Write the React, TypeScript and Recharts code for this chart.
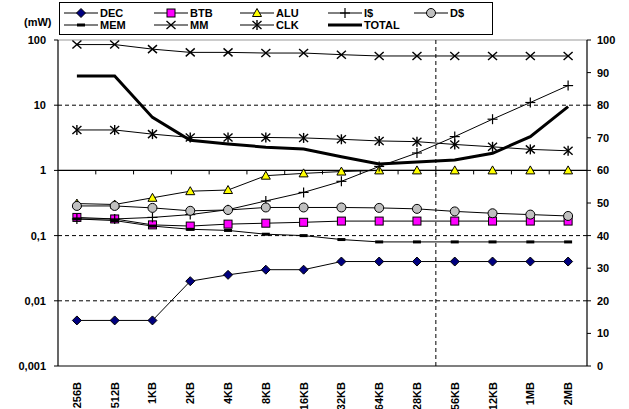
import React from 'react';
import { LineChart, Line, XAxis, YAxis, ReferenceLine, Legend } from 'recharts';

const categories = ['256B', '512B', '1KB', '2KB', '4KB', '8KB', '16KB', '32KB', '64KB', '128KB', '256KB', '512KB', '1MB', '2MB'];

// mW, log axis
const dec = [0.005, 0.005, 0.005, 0.02, 0.025, 0.03, 0.03, 0.04, 0.04, 0.04, 0.04, 0.04, 0.04, 0.04];
const btb = [0.19, 0.18, 0.146, 0.14, 0.15, 0.155, 0.16, 0.167, 0.167, 0.167, 0.167, 0.167, 0.167, 0.167];
const alu = [0.31, 0.3, 0.38, 0.48, 0.5, 0.83, 0.9, 0.96, 1, 1, 1, 1, 1, 1];
const icache = [0.18, 0.18, 0.19, 0.21, 0.25, 0.34, 0.46, 0.68, 1.15, 1.85, 3.3, 6.1, 11, 20];
const dcache = [0.285, 0.285, 0.266, 0.24, 0.247, 0.27, 0.27, 0.27, 0.266, 0.257, 0.235, 0.22, 0.21, 0.2];
const mem = [0.18, 0.17, 0.14, 0.125, 0.12, 0.105, 0.1, 0.087, 0.08, 0.08, 0.08, 0.08, 0.08, 0.08];
const clk = [4.17, 4.17, 3.6, 3.2, 3.2, 3.2, 3.15, 3.0, 2.83, 2.76, 2.5, 2.3, 2.1, 2.0];
const total = [28, 28, 6.5, 2.9, 2.55, 2.27, 2.13, 1.62, 1.25, 1.35, 1.44, 1.83, 3.3, 9.5];
// right axis (0-100)
const mm = [98.6, 98.6, 97.2, 96.2, 96.2, 96, 96, 95.5, 95.1, 95.1, 95.1, 95.1, 95.1, 95.1];

const leftTicks = [0.001, 0.01, 0.1, 1, 10, 100];
const rightTicks = [0, 10, 20, 30, 40, 50, 60, 70, 80, 90, 100];

const data = categories.map((c, i) => ({
  i,
  name: c,
  dec: dec[i],
  btb: btb[i],
  alu: alu[i],
  icache: icache[i],
  dcache: dcache[i],
  mem: mem[i],
  mm: mm[i],
  clk: clk[i],
  total: total[i],
}));

const FONT = '"Liberation Sans", Arial, sans-serif';

const marker = (kind: string, cx: number, cy: number, key?: any) => {
  switch (kind) {
    case 'diamond':
      return <polygon key={key} points={`${cx},${cy - 4.5} ${cx + 4.5},${cy} ${cx},${cy + 4.5} ${cx - 4.5},${cy}`} fill="#000080" stroke="#000" strokeWidth={1} />;
    case 'square':
      return <rect key={key} x={cx - 4} y={cy - 4} width={8} height={8} fill="#ff00ff" stroke="#000" strokeWidth={1} />;
    case 'triangle':
      return <polygon key={key} points={`${cx},${cy - 4.5} ${cx + 4.5},${cy + 3.5} ${cx - 4.5},${cy + 3.5}`} fill="#ffff00" stroke="#000" strokeWidth={1} />;
    case 'plus':
      return (
        <g key={key} stroke="#000" strokeWidth={1.2}>
          <line x1={cx - 5} y1={cy} x2={cx + 5} y2={cy} />
          <line x1={cx} y1={cy - 5} x2={cx} y2={cy + 5} />
        </g>
      );
    case 'circle':
      return <circle key={key} cx={cx} cy={cy} r={4.5} fill="#c0c0c0" stroke="#000" strokeWidth={1} />;
    case 'dash':
      return <line key={key} x1={cx - 4} y1={cy} x2={cx + 4} y2={cy} stroke="#000" strokeWidth={3} />;
    case 'x':
      return (
        <g key={key} stroke="#000" strokeWidth={1.4}>
          <line x1={cx - 4.5} y1={cy - 4} x2={cx + 4.5} y2={cy + 4} />
          <line x1={cx - 4.5} y1={cy + 4} x2={cx + 4.5} y2={cy - 4} />
        </g>
      );
    case 'star':
      return (
        <g key={key} stroke="#000" strokeWidth={1.4}>
          <line x1={cx - 4.5} y1={cy - 4} x2={cx + 4.5} y2={cy + 4} />
          <line x1={cx - 4.5} y1={cy + 4} x2={cx + 4.5} y2={cy - 4} />
          <line x1={cx} y1={cy - 5} x2={cx} y2={cy + 5} />
        </g>
      );
    default:
      return <g key={key} />;
  }
};

const dotOf = (kind: string) => (p: any) => marker(kind, p.cx, p.cy, p.key ?? p.index);

const series = [
  { key: 'dec', name: 'DEC', kind: 'diamond' },
  { key: 'btb', name: 'BTB', kind: 'square' },
  { key: 'alu', name: 'ALU', kind: 'triangle' },
  { key: 'icache', name: 'I$', kind: 'plus' },
  { key: 'dcache', name: 'D$', kind: 'circle' },
  { key: 'mem', name: 'MEM', kind: 'dash' },
  { key: 'mm', name: 'MM', kind: 'x' },
  { key: 'clk', name: 'CLK', kind: 'star' },
  { key: 'total', name: 'TOTAL', kind: 'none' },
];

const legendCols = [4, 94, 180, 268, 354];

const renderLegend = () => (
  <div style={{ position: 'relative', width: 434, height: 33, border: '1px solid #000', background: '#fff', boxSizing: 'border-box', fontFamily: FONT }}>
    {series.map((s, idx) => {
      const row = idx < 5 ? 0 : 1;
      const col = idx < 5 ? idx : idx - 5;
      return (
        <div key={s.key} style={{ position: 'absolute', left: legendCols[col], top: row === 0 ? 4 : 16, height: 12, display: 'flex', alignItems: 'center' }}>
          <svg width={34} height={12} style={{ display: 'block' }}>
            <line x1={0} y1={6} x2={34} y2={6} stroke="#000" strokeWidth={s.kind === 'none' ? 3 : 1} />
            {marker(s.kind, 17, 6)}
          </svg>
          <span style={{ fontSize: 11, fontWeight: 'bold', marginLeft: 2, lineHeight: '12px' }}>{s.name}</span>
        </div>
      );
    })}
  </div>
);

const XTick = (props: any) => {
  const { x, y, payload } = props;
  const label = categories[payload.value];
  return (
    <text x={x} y={y + 8} transform={`rotate(-90, ${x}, ${y + 8})`} textAnchor="end" dy={4} fontSize={11} fontWeight="bold" fill="#000" fontFamily={FONT}>
      {label}
    </text>
  );
};

const AxisAtOne = (p: any) => {
  const { x1, x2, y1 } = p;
  const step = (x2 - x1) / categories.length;
  return (
    <g>
      <line x1={x1} y1={y1} x2={x2} y2={y1} stroke="#000" strokeWidth={1.2} />
      {categories.slice(1).map((_, k) => (
        <line key={k} x1={x1 + (k + 1) * step} y1={y1} x2={x1 + (k + 1) * step} y2={y1 + 4} stroke="#000" strokeWidth={1} />
      ))}
    </g>
  );
};

const App = () => {
  return (
    <div style={{ position: 'absolute', left: 0, top: 0, fontFamily: FONT }}>
      <div style={{ position: 'absolute', left: 24, top: 16, fontSize: 11, fontWeight: 'bold', lineHeight: '13px' }}>(mW)</div>
      <LineChart width={629} height={409} data={data} margin={{ top: 40, right: 0, bottom: 0, left: 0 }}>
        <XAxis
          xAxisId="x"
          type="number"
          dataKey="i"
          domain={[-0.5, 13.5]}
          ticks={categories.map((_, i) => i)}
          interval={0}
          tickLine={false}
          axisLine={{ stroke: '#000', strokeWidth: 1.2 }}
          height={43}
          tick={<XTick />}
          allowDataOverflow
        />
        <YAxis
          yAxisId="left"
          scale="log"
          domain={[0.001, 100]}
          ticks={leftTicks}
          allowDataOverflow
          width={58}
          tickSize={4}
          tickMargin={8}
          axisLine={{ stroke: '#000', strokeWidth: 1.2 }}
          tickLine={{ stroke: '#000' }}
          tickFormatter={(v: number) => String(v).replace('.', ',')}
          tick={{ fontSize: 11, fontWeight: 'bold', fill: '#000' }}
        />
        <YAxis
          yAxisId="right"
          orientation="right"
          domain={[0, 100]}
          ticks={rightTicks}
          width={42}
          tickSize={4}
          tickMargin={6}
          axisLine={{ stroke: '#000', strokeWidth: 1.2 }}
          tickLine={{ stroke: '#000' }}
          tick={{ fontSize: 11, fontWeight: 'bold', fill: '#000', textAnchor: 'start' }}
        />
        <ReferenceLine xAxisId="x" yAxisId="left" y={100} stroke="#999" />
        <ReferenceLine xAxisId="x" yAxisId="left" y={10} stroke="#000" strokeDasharray="4 3" />
        <ReferenceLine xAxisId="x" yAxisId="left" y={0.1} stroke="#000" strokeDasharray="4 3" />
        <ReferenceLine xAxisId="x" yAxisId="left" y={0.01} stroke="#000" strokeDasharray="4 3" />
        <ReferenceLine xAxisId="x" yAxisId="left" x={9.5} stroke="#000" strokeDasharray="4 3" />
        <ReferenceLine xAxisId="x" yAxisId="left" y={1} shape={AxisAtOne} />
        <Legend
          layout="horizontal"
          verticalAlign="middle"
          align="center"
          wrapperStyle={{ top: 2, left: 59, width: 434, height: 33 }}
          content={renderLegend}
        />
        {series.map((s) => (
          <Line
            key={s.key}
            xAxisId="x"
            yAxisId={s.key === 'mm' ? 'right' : 'left'}
            dataKey={s.key}
            name={s.name}
            stroke="#000"
            strokeWidth={s.key === 'total' ? 3 : 1}
            dot={s.kind === 'none' ? false : dotOf(s.kind)}
            activeDot={false}
            isAnimationActive={false}
          />
        ))}
      </LineChart>
    </div>
  );
};

export default App;
